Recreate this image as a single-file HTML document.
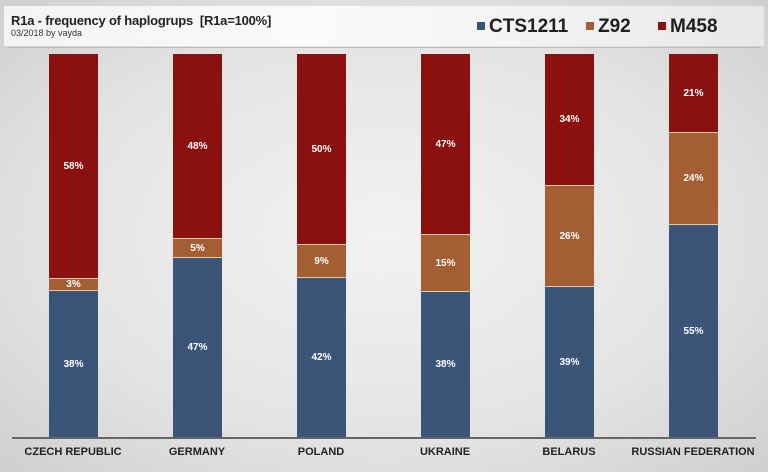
<!DOCTYPE html><html><head><style>
body{margin:0;width:768px;height:472px;overflow:hidden;font-family:"Liberation Sans",sans-serif;background:radial-gradient(ellipse at 50% 50%,#f2f2f2 0%,#e4e4e4 60%,#cfcfcf 100%);position:relative}
.hdr{position:absolute;left:4px;top:6px;width:760px;height:40px;background:linear-gradient(90deg,#f4f4f4,#fafafa 40%,#f6f6f6 60%,#e8e8e8);}
.line{position:absolute;left:8px;right:8px;top:47px;height:1px;background:#bbb}
.t{position:absolute;left:11px;top:13px;font-size:13px;font-weight:bold;color:#222;letter-spacing:-0.2px}
.s{position:absolute;left:11px;top:28px;font-size:9px;color:#333}
.lg{position:absolute;top:16px;font-size:19px;font-weight:bold;color:#1f1f1f}
.lg i{display:inline-block;width:8px;height:8px;margin-right:4px;vertical-align:2px}
.b{position:absolute;width:49px}
.b div{position:absolute;left:0;width:49px;display:flex;align-items:center;justify-content:center;font-size:10px;font-weight:bold;color:#fff;box-sizing:border-box}
.r{background:#8b1010}.o{background:#a35f33;border-top:1px solid #e8c9a8;border-bottom:1px solid #e8c9a8}.u{background:#3b5578}
.ax{position:absolute;left:12px;right:12px;top:437px;height:2px;background:#666}
.c{position:absolute;top:446px;width:160px;text-align:center;font-size:11px;font-weight:bold;color:#222}
</style></head><body>
<div class="hdr"></div><div class="line"></div>
<div class="t">R1a - frequency of haplogrups&nbsp; [R1a=100%]</div>
<div class="s">03/2018 by vayda</div>
<div class="lg" style="left:477px"><i style="background:#3b5578"></i>CTS1211</div>
<div class="lg" style="left:586px"><i style="background:#a35f33"></i>Z92</div>
<div class="lg" style="left:658px"><i style="background:#8b1010"></i>M458</div>
<div class="b" style="left:49px;top:54px;height:383px"><div class="r" style="top:0;height:224px">58%</div><div class="o" style="top:224px;height:13px">3%</div><div class="u" style="top:237px;height:146px">38%</div></div>
<div class="b" style="left:173px;top:54px;height:383px"><div class="r" style="top:0;height:184px">48%</div><div class="o" style="top:184px;height:20px">5%</div><div class="u" style="top:204px;height:179px">47%</div></div>
<div class="b" style="left:297px;top:54px;height:383px"><div class="r" style="top:0;height:190px">50%</div><div class="o" style="top:190px;height:34px">9%</div><div class="u" style="top:224px;height:159px">42%</div></div>
<div class="b" style="left:421px;top:54px;height:383px"><div class="r" style="top:0;height:180px">47%</div><div class="o" style="top:180px;height:58px">15%</div><div class="u" style="top:238px;height:145px">38%</div></div>
<div class="b" style="left:545px;top:54px;height:383px"><div class="r" style="top:0;height:131px">34%</div><div class="o" style="top:131px;height:102px">26%</div><div class="u" style="top:233px;height:150px">39%</div></div>
<div class="b" style="left:669px;top:54px;height:383px"><div class="r" style="top:0;height:78px">21%</div><div class="o" style="top:78px;height:93px">24%</div><div class="u" style="top:171px;height:212px">55%</div></div>
<div class="ax"></div>
<div class="c" style="left:-7px">CZECH REPUBLIC</div>
<div class="c" style="left:117px">GERMANY</div>
<div class="c" style="left:241px">POLAND</div>
<div class="c" style="left:365px">UKRAINE</div>
<div class="c" style="left:489px">BELARUS</div>
<div class="c" style="left:613px">RUSSIAN FEDERATION</div>
</body></html>
